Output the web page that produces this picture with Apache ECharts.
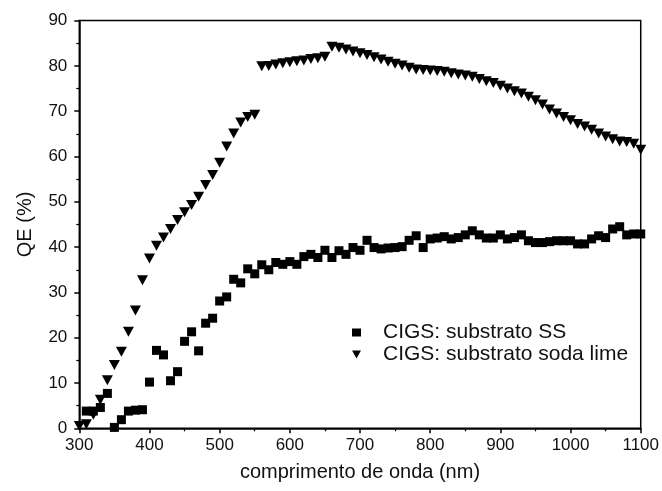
<!DOCTYPE html>
<html>
<head>
<meta charset="utf-8">
<script src="https://cdn.jsdelivr.net/npm/echarts@6/dist/echarts.min.js"></script>
<style>
html,body{margin:0;padding:0;background:#fff;}
#chart{width:662px;height:491px;}
</style>
</head>
<body>
<div id="chart"></div>
<script>
var seriesNames = ['CIGS: substrato SS', 'CIGS: substrato soda lime'];
var xTicks = ['300','400','500','600','700','800','900','1000','1100'];

var wlSS = [310,320,330,340,350,360,370,380,390,400,410,420,430,440,450,460,470,480,490,500,
  510,520,530,540,550,560,570,580,590,600,610,620,630,640,650,660,670,680,690,700,
  710,720,730,740,750,760,770,780,790,800,810,820,830,840,850,860,870,880,890,900,
  910,920,930,940,950,960,970,980,990,1000,1010,1020,1030,1040,1050,1060,1070,1080,1090,1100];
var qeSS = [3.8,3.8,4.6,7.7,0.2,1.9,3.8,4.0,4.1,10.2,17.2,16.2,10.5,12.5,19.2,21.3,17.1,23.2,24.3,28.1,
  29.0,32.9,32.1,35.2,34.1,36.1,35.0,36.6,36.2,36.8,36.2,37.9,38.4,37.7,39.3,37.7,39.2,38.4,39.9,39.3,
  41.5,39.9,39.6,39.8,39.9,40.1,41.5,42.5,39.9,41.8,42.0,42.3,41.8,42.1,42.7,43.6,42.7,42.0,42.0,42.7,
  41.8,42.1,42.7,41.4,41.0,41.0,41.2,41.4,41.4,41.4,40.7,40.7,41.8,42.5,42.1,44.0,44.5,42.7,42.9,42.9];

var wlSL = [300,310,320,330,340,350,360,370,380,390,400,410,420,430,440,450,460,470,480,490,500,
  510,520,530,540,550,560,570,580,590,600,610,620,630,640,650,660,670,680,690,700,
  710,720,730,740,750,760,770,780,790,800,810,820,830,840,850,860,870,880,890,900,
  910,920,930,940,950,960,970,980,990,1000,1010,1020,1030,1040,1050,1060,1070,1080,1090,1100];
var qeSL = [0.5,0.9,3.0,6.3,10.6,14.0,16.9,21.3,26.0,32.7,37.5,40.3,42.1,44.0,46.0,47.7,49.3,51.1,53.7,55.9,58.6,
  62.2,65.1,67.5,68.7,69.2,79.9,80.0,80.3,80.6,80.8,81.0,81.2,81.5,81.7,82.0,84.2,84.0,83.6,83.2,82.8,
  82.4,81.9,81.4,80.9,80.5,80.1,79.6,79.2,79.1,79.0,78.9,78.7,78.4,78.1,77.9,77.6,77.1,76.6,76.2,75.6,
  75.0,74.4,73.9,73.2,72.4,71.5,70.4,69.5,68.7,68.0,67.2,66.6,65.9,65.1,64.4,63.8,63.3,63.2,62.8,61.5];

function pairs(xs, ys){ return xs.map(function(x,i){ return [x, ys[i]]; }); }

var FONT = '"Liberation Sans", Arial, sans-serif';
var chart = echarts.init(document.getElementById('chart'), null, {renderer:'canvas'});
chart.setOption({
  animation:false,
  backgroundColor:'#fff',
  grid:{left:79.3, right:17.7, top:20.6, bottom:62.7, show:true, borderColor:'#000', borderWidth:1.5, containLabel:false},
  legend:{
    orient:'vertical', left:347, top:317,
    itemWidth:9, itemHeight:8, itemGap:1,
    textStyle:{fontFamily:FONT, fontSize:21, color:'#111', padding:[0,0,0,17]},
    data:seriesNames
  },
  xAxis:{
    type:'value', min:300, max:1100, interval:100,
    name:'comprimento de onda (nm)', nameLocation:'middle', nameGap:34,
    nameTextStyle:{fontFamily:FONT, fontSize:20, color:'#111'},
    axisLine:{show:true, lineStyle:{color:'#000', width:1.5}},
    axisTick:{show:true, inside:false, length:5, lineStyle:{color:'#000', width:1.5}},
    minorTick:{show:true, splitNumber:2, length:3, lineStyle:{color:'#000', width:1.2}},
    axisLabel:{margin:9, fontFamily:FONT, fontSize:17, color:'#111',
      formatter:function(v){ var s=String(v); return xTicks.indexOf(s)>=0 ? s : ''; }},
    splitLine:{show:false}
  },
  yAxis:{
    type:'value', min:0, max:90, interval:10,
    name:'QE (%)', nameLocation:'middle', nameGap:44,
    nameTextStyle:{fontFamily:FONT, fontSize:20, color:'#111'},
    axisLine:{show:true, lineStyle:{color:'#000', width:1.5}},
    axisTick:{show:true, inside:false, length:5, lineStyle:{color:'#000', width:1.5}},
    minorTick:{show:true, splitNumber:2, length:3, lineStyle:{color:'#000', width:1.2}},
    axisLabel:{margin:12, fontFamily:FONT, fontSize:17, color:'#111'},
    splitLine:{show:false}
  },
  series:[
    {name:seriesNames[0], type:'scatter', symbol:'rect', symbolSize:9,
     itemStyle:{color:'#000', opacity:1}, data:pairs(wlSS, qeSS)},
    {name:seriesNames[1], type:'scatter', symbol:'path://M0,0L10,0L5,9Z', symbolSize:[11,10],
     itemStyle:{color:'#000', opacity:1}, data:pairs(wlSL, qeSL)}
  ]
});
</script>
</body>
</html>
